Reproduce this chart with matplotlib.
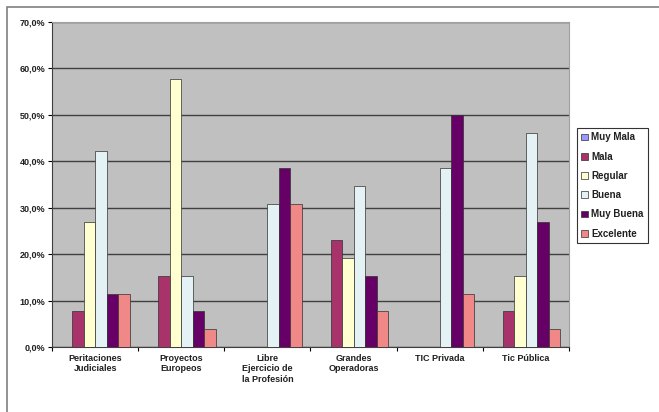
import matplotlib.pyplot as plt
from matplotlib.patches import Rectangle
from matplotlib.ticker import FixedLocator, FuncFormatter
import numpy as np

plt.rcParams['font.family'] = ['Liberation Sans', 'DejaVu Sans']

categorias = ['Peritaciones\nJudiciales', 'Proyectos\nEuropeos', 'Libre\nEjercicio de\nla Profesión',
              'Grandes\nOperadoras', 'TIC Privada', 'Tic Pública']
series = ['Muy Mala', 'Mala', 'Regular', 'Buena', 'Muy Buena', 'Excelente']
colores = ['#9999FF', '#A8336B', '#FFFFD0', '#E4F2F6', '#660066', '#F08888']

muy_mala = [0.0, 0.0, 0.0, 0.0, 0.0, 0.0]
mala = [7.7, 15.4, 0.0, 23.1, 0.0, 7.7]
regular = [26.9, 57.7, 0.0, 19.2, 0.0, 15.4]
buena = [42.3, 15.4, 30.8, 34.6, 38.5, 46.2]
muy_buena = [11.5, 7.7, 38.5, 15.4, 50.0, 26.9]
excelente = [11.5, 3.8, 30.8, 7.7, 11.5, 3.8]
valores = [muy_mala, mala, regular, buena, muy_buena, excelente]

fig = plt.figure(figsize=(6.59, 4.12), dpi=100)
# marco exterior del grafico
fig.patches.append(Rectangle((7 / 659, -0.1), 1.2, 1 - 7 / 412 + 0.1, transform=fig.transFigure,
                             fill=False, edgecolor='#808080', linewidth=1.2))

ax = fig.add_axes([52 / 659, 1 - 347 / 412, 517 / 659, 325 / 412])
ax.set_facecolor('#C0C0C0')

n = len(series)
ancho = 1 / 7.5
x = np.arange(len(categorias))
for i, (nombre, vals) in enumerate(zip(series, valores)):
    pos = x - (n - 1) / 2 * ancho + i * ancho
    ax.bar(pos, vals, width=ancho, color=colores[i], edgecolor='#303030', linewidth=0.5,
           label=nombre, zorder=3)

ax.set_xlim(-0.5, len(categorias) - 0.5)
ax.set_ylim(0, 70)
ax.set_yticks(np.arange(0, 71, 10))
ax.yaxis.set_major_formatter(FuncFormatter(lambda v, p: ('%.1f%%' % v).replace('.', ',')))
ax.grid(axis='y', color='#404040', linewidth=1.0, zorder=1)

ax.xaxis.set_major_locator(FixedLocator(np.arange(-0.5, len(categorias), 1)))
ax.xaxis.set_major_formatter(FuncFormatter(lambda v, p: ''))
ax.xaxis.set_minor_locator(FixedLocator(x))
ax.set_xticklabels(categorias, minor=True)
ax.tick_params(axis='x', which='minor', length=0, pad=5)
ax.tick_params(axis='x', which='major', length=3, color='black')
ax.tick_params(axis='y', length=3, pad=2)
for lab in ax.get_xticklabels(minor=True) + ax.get_yticklabels():
    lab.set_fontsize(6.5)
    lab.set_fontweight('bold')
    lab.set_color('#202020')

for s in ['top', 'right']:
    ax.spines[s].set_color('#A0A0A0')
for s in ['left', 'bottom']:
    ax.spines[s].set_color('#404040')

leg = fig.legend(loc='upper left', bbox_to_anchor=(577 / 659, 1 - 128 / 412), fontsize=7,
                 frameon=True, fancybox=False, edgecolor='black', handlelength=0.7,
                 handleheight=0.7, handletextpad=0.3, labelspacing=0.95, borderpad=0.45,
                 borderaxespad=0)
leg.get_frame().set_linewidth(0.8)
for t in leg.get_texts():
    t.set_fontweight('bold')
    t.set_color('#202020')

fig.savefig('out.png', dpi=100)
